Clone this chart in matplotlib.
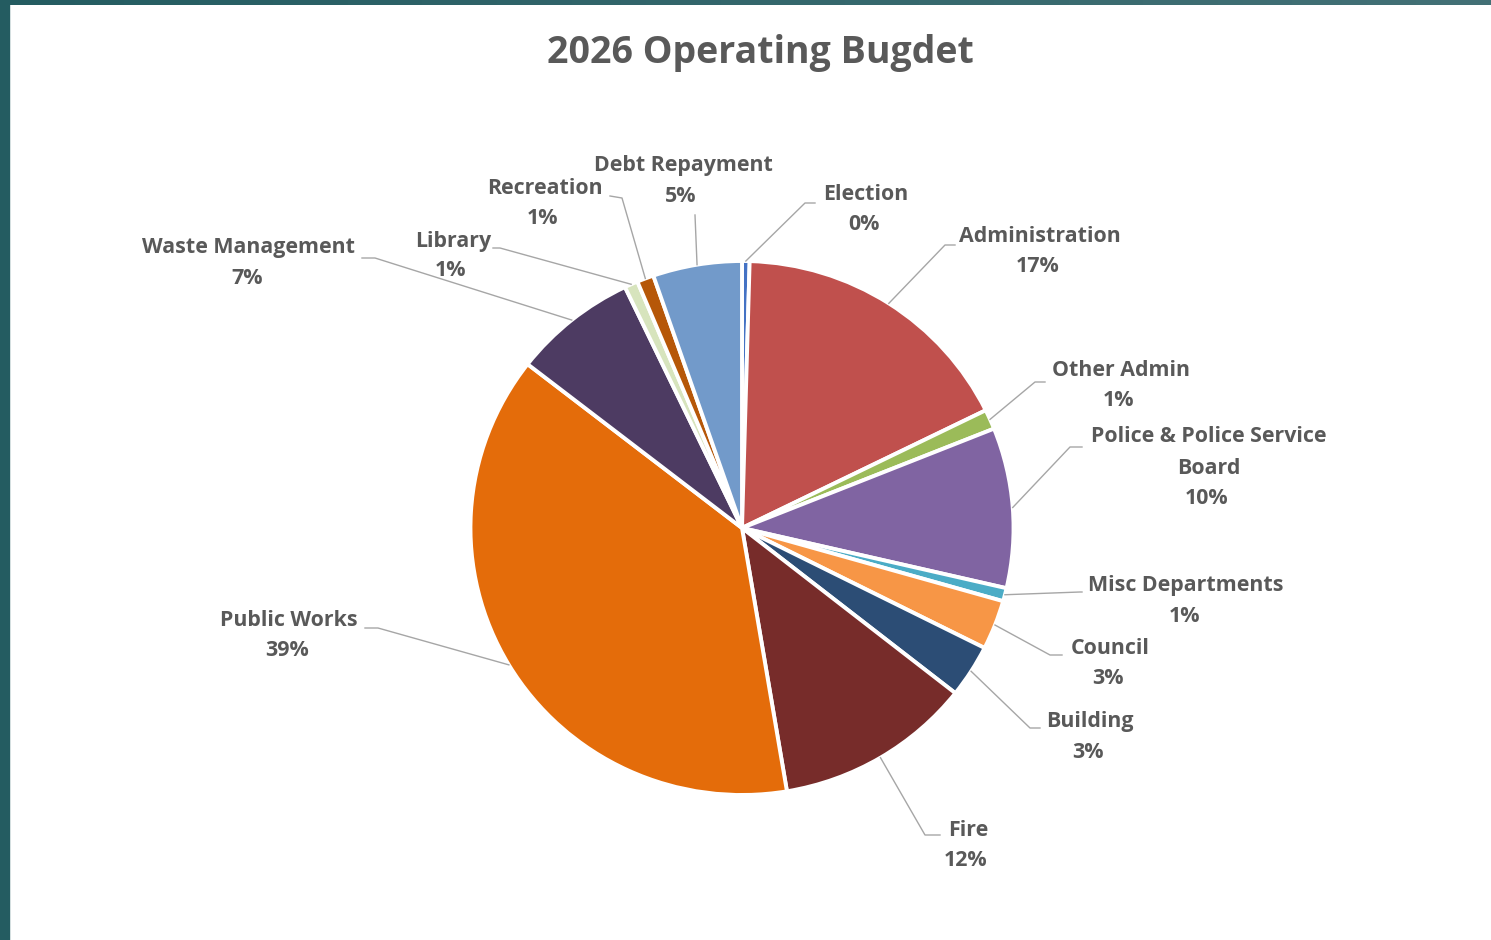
import numpy as np
import matplotlib
matplotlib.use("Agg")
import matplotlib.pyplot as plt
from matplotlib.patches import Rectangle
from matplotlib.transforms import Affine2D

# ---- data ----
categories = ["Election", "Administration", "Other Admin", "Police & Police Service\nBoard",
              "Misc Departments", "Council", "Building", "Fire", "Public Works",
              "Waste Management", "Library", "Recreation", "Debt Repayment"]
values = [0.45, 17.3, 1.2, 9.7, 0.8, 3.0, 3.2, 11.75, 38.2, 7.4, 0.8, 1.0, 5.3]
pct_labels = ["0%", "17%", "1%", "10%", "1%", "3%", "3%", "12%", "39%", "7%", "1%", "1%", "5%"]
colors = ["#4472C4", "#C0504D", "#9BBB59", "#8064A2", "#4BACC6", "#F79646", "#2C4D75",
          "#772C2A", "#E46C0A", "#4D3B62", "#D7E4BD", "#B65708", "#729ACA"]

# ---- layout (pixel coords, y measured from top) ----
W, H = 1491, 940
cx, cy, R = 742, 528, 267
sx_stretch = 1.017
label_pos = [(866, 195), (1040, 237), (1121, 371), (1209, 437), (1186, 586), (1110, 649),
             (1090, 722), (968, 830), (289, 620), (249, 248), (453, 241), (545, 189), (683, 166)]
elbows = [(805, 203), (945, 245), (1035, 382), (1070, 447), (1080, 592), (1050, 655),
          (1030, 728), (925, 835), (378, 628), (375, 258), (500, 248), (622, 198), (695, 215)]
ends = [(815, 203), (955, 245), (1045, 382), (1082, 447), (1082, 592), (1062, 655),
        (1040, 728), (940, 835), (365, 628), (362, 258), (493, 248), (610, 196), (695, 215)]

fig = plt.figure(figsize=(W / 100, H / 100), dpi=100)
fig.patch.set_facecolor("white")
ax = fig.add_axes([0, 0, 1, 1])

wedges, _ = ax.pie(values, colors=colors, startangle=90, counterclock=False,
                   center=(cx, H - cy), radius=R, frame=True,
                   wedgeprops=dict(edgecolor="white", linewidth=2.8))
stretch = Affine2D().translate(-cx, -(H - cy)).scale(sx_stretch, 1).translate(cx, H - cy)
for w in wedges:
    w.set_transform(stretch + ax.transData)
ax.set_xlim(0, W)
ax.set_ylim(0, H)
ax.set_aspect("equal")
ax.axis("off")

# border
ax.add_patch(Rectangle((0, 0), 9, H, color="#245c61", zorder=0))
ncol = 60
for i in range(ncol):
    t = i / (ncol - 1)
    c = (0.14 + 0.12 * t, 0.36 + 0.08 * t, 0.38 + 0.08 * t)
    ax.add_patch(Rectangle((i * W / ncol, H - 5), W / ncol + 1, 5, color=c, zorder=0, lw=0))

tc = "#595959"
font = ["Open Sans", "DejaVu Sans"]
ax.text(760, H - 53, "2026 Operating Bugdet", ha="center", va="center",
        fontsize=27, fontweight="bold", color=tc, family=font)

total = sum(values)
cum = 0
for i, v in enumerate(values):
    mid = (cum + v / 2) / total * 2 * np.pi
    cum += v
    px = cx + R * sx_stretch * np.sin(mid)
    py = cy - R * np.cos(mid)
    ex, ey = elbows[i]
    fx, fy = ends[i]
    ax.plot([px, ex, fx], [H - py, H - ey, H - fy], color="#A6A6A6", lw=1.0, zorder=1)
    lx, ly = label_pos[i]
    name_lines = categories[i].split("\n")
    for j, ln in enumerate(name_lines):
        ax.text(lx, H - (ly + 31 * j), ln, ha="center", va="center", fontsize=15.4,
                fontweight="bold", color=tc, family=font)
    ax.text(lx - 2, H - (ly + 31 * len(name_lines) - 1), pct_labels[i], ha="center", va="center",
            fontsize=15.4, fontweight="bold", color=tc, family=font)

fig.savefig("out.png", dpi=100)
